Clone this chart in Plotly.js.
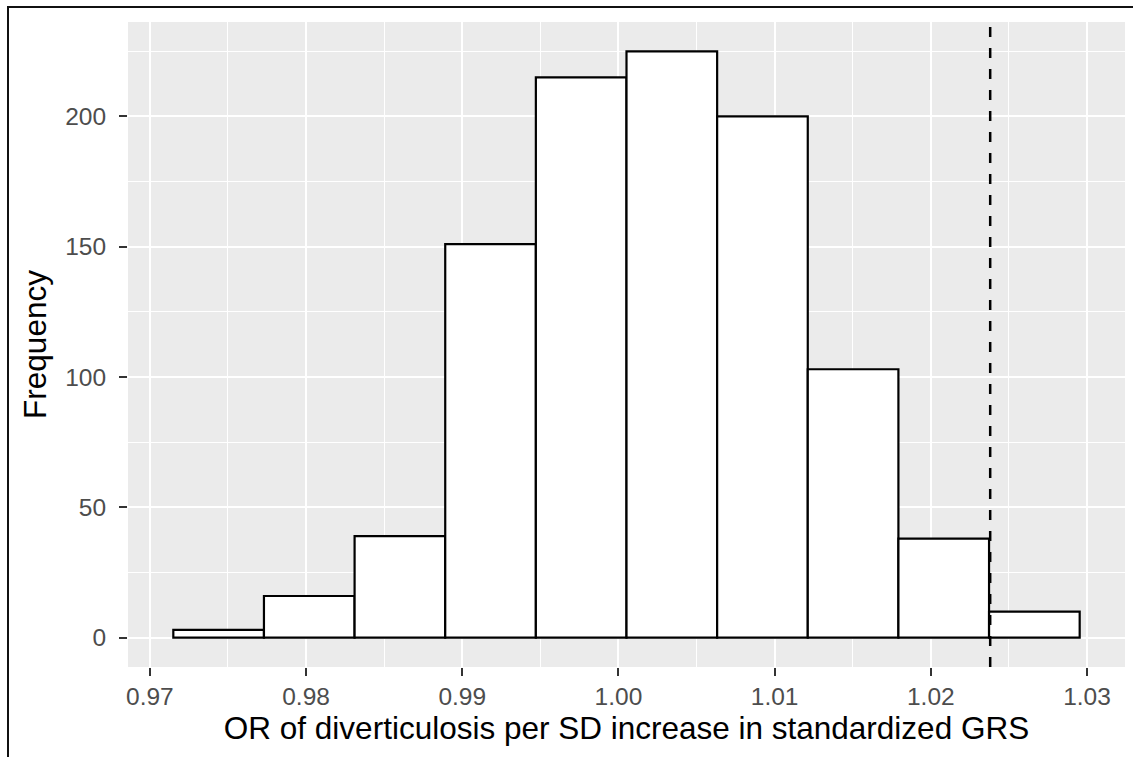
<!DOCTYPE html>
<html>
<head>
<meta charset="utf-8">
<script src="https://cdn.plot.ly/plotly-3.0.1.min.js"></script>
<style>
  html, body { margin: 0; padding: 0; background: #ffffff; }
  #wrap { position: relative; width: 1133px; height: 757px; overflow: hidden; }
  #chart { position: absolute; left: 0; top: 0; width: 1133px; height: 757px; }
  #frame { position: absolute; left: 7px; top: 6px; width: 1140px; height: 760px;
           border-left: 2px solid #111; border-top: 2px solid #111; pointer-events: none; }
</style>
</head>
<body>
<div id="wrap">
  <div id="chart"></div>
  <div id="frame"></div>
</div>
<script>
// ---- data ----
const binStart = 0.9715;          // left edge of first bin
const binWidth = 0.005803;        // width of each bin
const counts = [3, 16, 39, 151, 215, 225, 200, 103, 38, 10];
const observedOR = 1.0238;        // dashed reference line
const xTickVals = [0.97, 0.98, 0.99, 1.00, 1.01, 1.02, 1.03];
const xTickText = ["0.97", "0.98", "0.99", "1.00", "1.01", "1.02", "1.03"];
const yTickVals = [0, 50, 100, 150, 200];
const xTitle = "OR of diverticulosis per SD increase in standardized GRS";
const yTitle = "Frequency";

// ---- derived ----
const centers = counts.map((_, i) => binStart + binWidth * (i + 0.5));
const xLo = binStart, xHi = binStart + binWidth * counts.length;
const xPad = (xHi - xLo) * 0.05;
const yMax = Math.max(...counts);
const yPad = yMax * 0.05;

const fontFam = "Liberation Sans, Arial, sans-serif";

const trace = {
  type: "bar",
  x: centers,
  y: counts,
  width: counts.map(() => binWidth),
  marker: { color: "#ffffff", line: { color: "#000000", width: 2.2 } },
  hoverinfo: "x+y"
};

const layout = {
  width: 1133, height: 757,
  margin: { l: 128, r: 8, t: 22, b: 90 },
  paper_bgcolor: "#ffffff",
  plot_bgcolor: "#EBEBEB",
  showlegend: false,
  bargap: 0,
  font: { family: fontFam },
  xaxis: {
    range: [xLo - xPad, xHi + xPad],
    tickvals: xTickVals, ticktext: xTickText,
    showgrid: true, gridcolor: "#ffffff", gridwidth: 2,
    minor: { dtick: 0.005, tick0: 0.97, showgrid: true, gridcolor: "#ffffff", gridwidth: 1, ticks: "" },
    zeroline: false, showline: false,
    ticks: "outside", ticklen: 8, tickwidth: 2, tickcolor: "#333333",
    tickfont: { family: fontFam, size: 24.5, color: "#4D4D4D" },
    title: { text: xTitle, font: { family: fontFam, size: 31.5, color: "#000000" }, standoff: 7 }
  },
  yaxis: {
    range: [-yPad, yMax + yPad],
    tickvals: yTickVals,
    showgrid: true, gridcolor: "#ffffff", gridwidth: 2,
    minor: { dtick: 25, tick0: 0, showgrid: true, gridcolor: "#ffffff", gridwidth: 1, ticks: "" },
    zeroline: false, showline: false,
    ticks: "outside", ticklen: 8, tickwidth: 2, tickcolor: "#333333",
    tickfont: { family: fontFam, size: 24.5, color: "#4D4D4D" },
    ticklabelstandoff: 8,
    title: { text: yTitle, font: { family: fontFam, size: 31.5, color: "#000000" }, standoff: 9 }
  },
  shapes: [{
    type: "line", xref: "x", yref: "paper",
    x0: observedOR, x1: observedOR, y0: 0, y1: 1,
    line: { color: "#000000", width: 2.5, dash: "10px,11px" }
  }]
};

Plotly.newPlot("chart", [trace], layout, { displayModeBar: false, staticPlot: true });
</script>
</body>
</html>
